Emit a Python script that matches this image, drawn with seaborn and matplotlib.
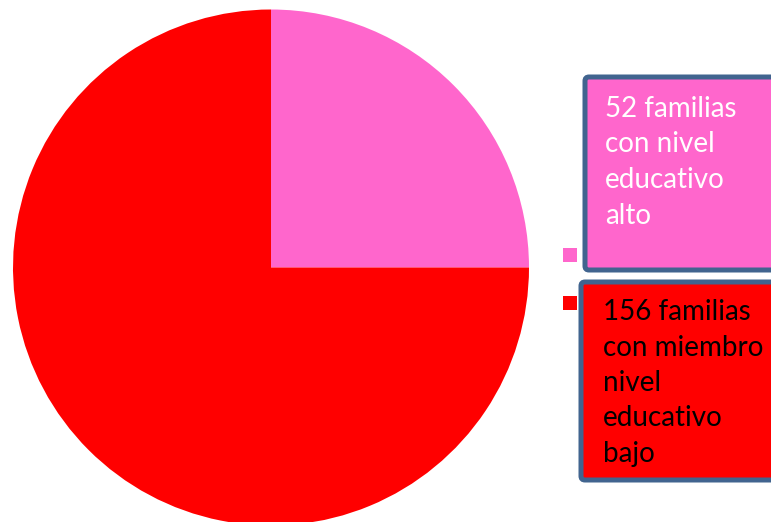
import matplotlib
matplotlib.use("Agg")
import matplotlib.pyplot as plt
from matplotlib.patches import FancyBboxPatch, Rectangle
import seaborn as sns

# ---- data ----
categories = ["52 familias con nivel educativo alto",
              "156 familias con miembro nivel educativo bajo"]
values = [52, 156]
label_lines = [["52 familias", "con nivel", "educativo", "alto"],
               ["156 familias", "con miembro", "nivel", "educativo", "bajo"]]
colors = ["#FF66CC", "#FF0000"]
text_colors = ["white", "#000000"]

sns.set_theme(style="white")
plt.rcParams['font.family'] = ['Lato', 'DejaVu Sans']

W, H = 771, 522
fig = plt.figure(figsize=(W / 100, H / 100), dpi=100)
ax = fig.add_axes([0, 0, 1, 1])

def Y(y):
    return H - y

# pie
cx, cy, r = 271, 267.5, 258
ax.pie(values, colors=colors, startangle=90, counterclock=False,
       center=(cx, Y(cy)), radius=r, frame=True,
       wedgeprops=dict(linewidth=0, antialiased=True))
ax.set_xlim(0, W)
ax.set_ylim(0, H)
ax.set_aspect('equal')
ax.set_axis_off()

# legend markers
markers_y = [248, 296]
for c, my in zip(colors, markers_y):
    ax.add_patch(Rectangle((563, Y(my + 14)), 14, 14, facecolor=c,
                           edgecolor='none', clip_on=False))

# label boxes
boxes = [(585, 77, 270), (581, 282, 480)]  # left, top, bottom (pixels)
baselines = [[117, 152.5, 188, 223.5], [320, 355.5, 391, 426.5, 462]]
text_x = [605, 603]
for i, (left, top, bottom) in enumerate(boxes):
    box = FancyBboxPatch((left, Y(bottom)), 220, bottom - top,
                         boxstyle="round,pad=0,rounding_size=4",
                         facecolor=colors[i], edgecolor="#41648F",
                         linewidth=3.6, clip_on=True)
    ax.add_patch(box)
    for line, by in zip(label_lines[i], baselines[i]):
        ax.text(text_x[i], Y(by), line, color=text_colors[i], fontsize=20,
                va='baseline', ha='left')

fig.savefig("out.png", dpi=100)
